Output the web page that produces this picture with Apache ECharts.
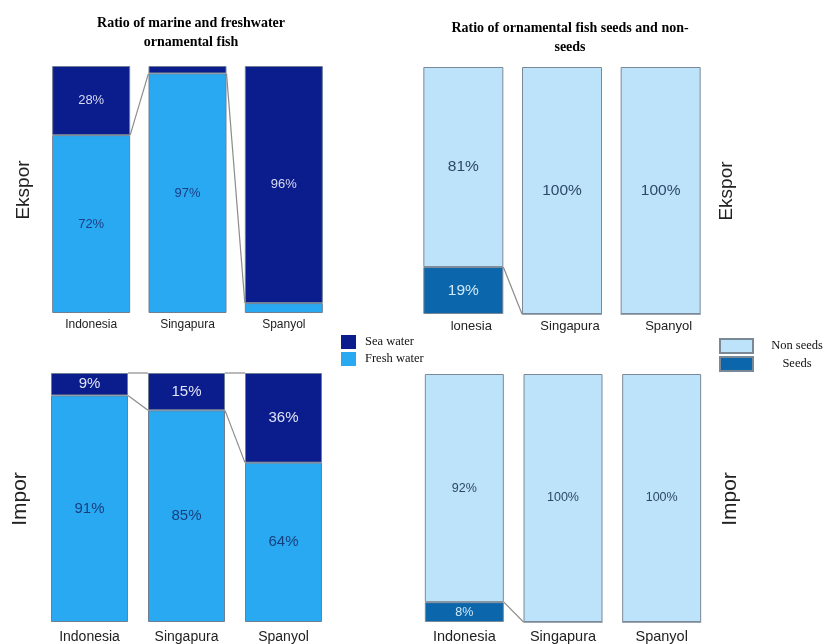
<!DOCTYPE html>
<html>
<head>
<meta charset="utf-8">
<script src="https://cdn.jsdelivr.net/npm/echarts@6/dist/echarts.min.js"></script>
<style>html,body{margin:0;padding:0;background:#fff}#c{width:827px;height:644px}</style>
</head>
<body>
<div id="c"></div>
<script>
// ---- data ----
const categories = ['Indonesia', 'Singapura', 'Spanyol'];
const exportSeaWater = [28, 3, 96];
const exportFreshWater = [72, 97, 4];
const importSeaWater = [9, 15, 36];
const importFreshWater = [91, 85, 64];
const exportSeeds = [19, 0, 0];
const exportNonSeeds = [81, 100, 100];
const importSeeds = [8, 0, 0];
const importNonSeeds = [92, 100, 100];

const SANS = 'Liberation Sans, Arial, sans-serif';
const SERIF = 'Liberation Serif, Times New Roman, serif';
const C = { sea: '#0b1c8c', fresh: '#2aa9f3', non: '#bde3fa', seeds: '#0c66ab' };

const chart = echarts.init(document.getElementById('c'));

function pct(min) {
  return p => (p.value >= min ? p.value + '%' : '');
}

function barSeries(name, data, gi, color, stack, barWidth, labelColor, fontSize, border) {
  return {
    type: 'bar', name, data, xAxisIndex: gi, yAxisIndex: gi, stack,
    barWidth, itemStyle: { color, borderColor: border, borderWidth: 1 },
    label: { show: true, position: 'inside', formatter: pct(5), color: labelColor,
      fontFamily: SANS, fontSize },
    silent: true, animation: false
  };
}

function connector(gi, pairs, barWidth) {
  return {
    type: 'custom', xAxisIndex: gi, yAxisIndex: gi, silent: true, animation: false, z: 5,
    data: pairs,
    encode: { x: 0, y: 1 },
    renderItem: (params, api) => {
      const i = api.value(0), a = api.value(1), b = api.value(2);
      const p1 = api.coord([i, a]);
      const p2 = api.coord([i + 1, b]);
      return { type: 'line',
        shape: { x1: p1[0] + barWidth / 2, y1: p1[1], x2: p2[0] - barWidth / 2, y2: p2[1] },
        style: { stroke: '#8c8c8c', lineWidth: 1.2 } };
    }
  };
}

const grids = [
  { left: 43, top: 66, width: 289, height: 247 },
  { left: 41, top: 373, width: 291, height: 249 },
  { left: 414, top: 67, width: 296, height: 247 },
  { left: 415, top: 374, width: 296, height: 249 }
];
const labelCfg = [
  { fontSize: 12, margin: 6 },
  { fontSize: 14, margin: 8 },
  { fontSize: 13, margin: 6, fmt: v => (v === 'Indonesia' ? 'lonesia' : v), pad: [0, 0, 0, 16] },
  { fontSize: 14.5, margin: 7 }
];
const bw = [78, 77, 80, 79];

const option = {
  backgroundColor: '#fff',
  animation: false,
  grid: grids,
  xAxis: grids.map((g, i) => ({
    type: 'category', gridIndex: i, data: categories,
    axisLine: { show: false }, axisTick: { show: false },
    axisLabel: { color: '#222', fontFamily: SANS, fontSize: labelCfg[i].fontSize,
      margin: labelCfg[i].margin, formatter: labelCfg[i].fmt, padding: labelCfg[i].pad || 0 }
  })),
  yAxis: grids.map((g, i) => ({ type: 'value', gridIndex: i, min: 0, max: 100, show: false,
    splitLine: { show: false } })),
  legend: [
    { data: ['Sea water', 'Fresh water'], orient: 'vertical', left: 336, top: 330,
      itemWidth: 15, itemHeight: 14, itemGap: 3, icon: 'rect', selectedMode: false,
      itemStyle: { borderWidth: 0 },
      textStyle: { fontFamily: SERIF, fontSize: 12.5, color: '#111', padding: [0, 0, 0, 4] } },
    { data: ['Non seeds', 'Seeds'], orient: 'vertical', left: 714, top: 333,
      itemWidth: 33, itemHeight: 14, itemGap: 2, icon: 'rect', selectedMode: false,
      formatter: '{c|{name}}',
      textStyle: { fontFamily: SERIF, fontSize: 12.5, color: '#111', padding: [0, 0, 0, 12],
        rich: { c: { width: 54, align: 'center', fontFamily: SERIF, fontSize: 12.5, color: '#111' } } } }
  ],
  series: [
    barSeries('Fresh water', exportFreshWater, 0, C.fresh, 'e', bw[0], '#1c3f86', 13, '#6f7f92'),
    barSeries('Sea water', exportSeaWater, 0, C.sea, 'e', bw[0], '#d6dcf2', 13, '#6f7f92'),
    connector(0, [[0, exportFreshWater[0], exportFreshWater[1]], [1, exportFreshWater[1], exportFreshWater[2]]], bw[0]),

    barSeries('Fresh water', importFreshWater, 1, C.fresh, 'i', bw[1], '#173f7d', 15, '#6f7f92'),
    barSeries('Sea water', importSeaWater, 1, C.sea, 'i', bw[1], '#dfe4f7', 15, '#6f7f92'),
    connector(1, [[0, importFreshWater[0], importFreshWater[1]], [1, importFreshWater[1], importFreshWater[2]],
      [0, 100, 100], [1, 100, 100]], bw[1]),

    barSeries('Seeds', exportSeeds, 2, C.seeds, 's', bw[2], '#cfe9fa', 15.5, '#7b8896'),
    barSeries('Non seeds', exportNonSeeds, 2, C.non, 's', bw[2], '#2e4866', 15.5, '#7b8896'),
    connector(2, [[0, exportSeeds[0], exportSeeds[1]]], bw[2]),

    barSeries('Seeds', importSeeds, 3, C.seeds, 't', bw[3], '#cfe9fa', 12.5, '#7b8896'),
    barSeries('Non seeds', importNonSeeds, 3, C.non, 't', bw[3], '#2e4866', 12.5, '#7b8896'),
    connector(3, [[0, importSeeds[0], importSeeds[1]]], bw[3])
  ],
  graphic: [
    { type: 'text', x: 191, y: 14, silent: true,
      style: { text: 'Ratio of marine and freshwater\nornamental fish', textAlign: 'center',
        font: 'bold 14px ' + SERIF, lineHeight: 19, fill: '#000' } },
    { type: 'text', x: 570, y: 19, silent: true,
      style: { text: 'Ratio of ornamental fish seeds and non-\nseeds', textAlign: 'center',
        font: 'bold 14px ' + SERIF, lineHeight: 19, fill: '#000' } },
    { type: 'text', x: 24, y: 190, rotation: Math.PI / 2, silent: true,
      style: { text: 'Ekspor', textAlign: 'center', textVerticalAlign: 'middle',
        font: '19px ' + SANS, fill: '#222' } },
    { type: 'text', x: 20, y: 499, rotation: Math.PI / 2, silent: true,
      style: { text: 'Impor', textAlign: 'center', textVerticalAlign: 'middle',
        font: '21px ' + SANS, fill: '#222' } },
    { type: 'text', x: 727, y: 191, rotation: Math.PI / 2, silent: true,
      style: { text: 'Ekspor', textAlign: 'center', textVerticalAlign: 'middle',
        font: '19px ' + SANS, fill: '#222' } },
    { type: 'text', x: 730, y: 499, rotation: Math.PI / 2, silent: true,
      style: { text: 'Impor', textAlign: 'center', textVerticalAlign: 'middle',
        font: '21px ' + SANS, fill: '#222' } }
  ]
};
chart.setOption(option);
</script>
</body>
</html>
